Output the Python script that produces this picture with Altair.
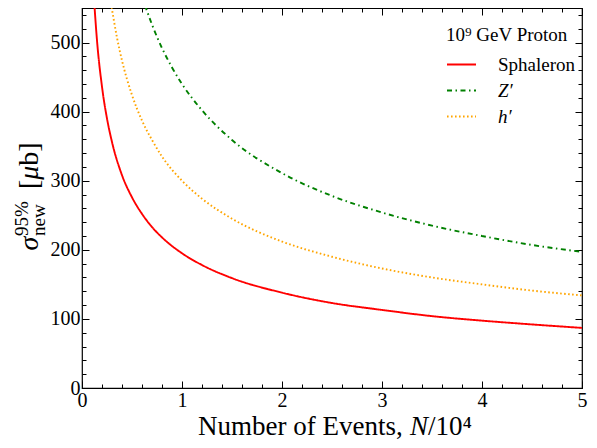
import altair as alt
import pandas as pd

# ---- data (x in units of 10^4 events, sigma in micro-barn)
N_sph = [0.12, 0.15, 0.2, 0.25, 0.3, 0.4, 0.5, 0.6, 0.7, 0.8, 1.0, 1.2, 1.5, 2.0, 2.5, 3.0, 3.5, 4.0, 4.5, 5.0]
sig_sph = [563, 503, 436, 390, 356, 308, 276, 252, 233, 218, 195, 178, 159, 138, 123, 113, 104, 97.5, 92, 87]

N_z = [0.63, 0.7, 0.8, 0.9, 1.0, 1.2, 1.5, 2.0, 2.5, 3.0, 3.5, 4.0, 4.5, 5.0]
sig_z = [554, 526, 492, 464, 440, 402, 359, 311, 278, 254, 235, 220, 207, 197]

N_h = [0.29, 0.35, 0.4, 0.5, 0.6, 0.7, 0.8, 1.0, 1.2, 1.5, 2.0, 2.5, 3.0, 3.5, 4.0, 4.5, 5.0]
sig_h = [557, 507, 474, 424, 387, 359, 335, 300, 274, 245, 212, 190, 173, 160, 150, 141, 134]

names = ["Sphaleron", "Z\u2032", "h\u2032"]
colors = ["#ff0000", "#008000", "#ffa500"]
dashes = [[1, 0], [5, 3.5, 1.5, 3.5], [1.6, 2.4]]

x_major = [0, 1, 2, 3, 4, 5]
x_minor = [0.2, 0.4, 0.6, 0.8, 1.2, 1.4, 1.6, 1.8, 2.2, 2.4, 2.6, 2.8,
           3.2, 3.4, 3.6, 3.8, 4.2, 4.4, 4.6, 4.8]
y_major = [0, 100, 200, 300, 400, 500]
y_minor = [v for v in range(20, 560, 20) if v % 100 != 0]

rows = []
for nm, xs_, ys_ in zip(names, [N_sph, N_z, N_h], [sig_sph, sig_z, sig_h]):
    for a, b in zip(xs_, ys_):
        rows.append({"N": a, "s": b, "model": nm})
df = pd.DataFrame(rows)

FONT = "Liberation Serif"
W, H = 500, 380
xs = alt.Scale(domain=[0, 5], nice=False, zero=False)
ys = alt.Scale(domain=[0, 550], nice=False, zero=False)


def major_axis(orient, values, labels):
    return alt.Axis(orient=orient, values=values, tickSize=7, offset=-7, domain=False,
                    grid=False, labels=labels, labelFont=FONT, labelFontSize=20,
                    labelColor="black", tickColor="black", tickWidth=1,
                    labelPadding=2, labelFlush=False, labelOverlap=False,
                    format="d", title=None)


def minor_axis(orient, values):
    return alt.Axis(orient=orient, values=values, tickSize=4, offset=-4, domain=False,
                    grid=False, labels=False, tickColor="black", tickWidth=1, title=None)


leg = alt.Legend(
    title="10\u2079 GeV Proton", orient="none", legendX=364, legendY=18,
    titleFont=FONT, titleFontSize=19, titleFontWeight="normal", titleColor="black",
    titlePadding=4, labelFont=FONT, labelFontSize=19, labelColor="black",
    labelFontStyle={"expr": "datum.label == 'Sphaleron' ? 'normal' : 'italic'"},
    symbolType="stroke", symbolSize=841, symbolStrokeWidth=2, labelOffset=21,
    rowPadding=0, padding=0,
)

lines = alt.Chart(df).mark_line(clip=True, strokeWidth=1.9, interpolate="monotone").encode(
    x=alt.X("N:Q", scale=xs, axis=major_axis("bottom", x_major, True)),
    y=alt.Y("s:Q", scale=ys, axis=major_axis("left", y_major, True)),
    color=alt.Color("model:N", scale=alt.Scale(domain=names, range=colors), legend=leg),
    strokeDash=alt.StrokeDash("model:N", scale=alt.Scale(domain=names, range=dashes), legend=leg),
)

axdf = pd.DataFrame({"N": [0, 5], "s": [0, 550]})


def axis_layer(xa, ya):
    return alt.Chart(axdf).mark_point(opacity=0).encode(
        x=alt.X("N:Q", scale=xs, axis=xa),
        y=alt.Y("s:Q", scale=ys, axis=ya),
    )


top_right = axis_layer(major_axis("top", x_major, False), major_axis("right", y_major, False))
minor_bl = axis_layer(minor_axis("bottom", x_minor), minor_axis("left", y_minor))
minor_tr = axis_layer(minor_axis("top", x_minor), minor_axis("right", y_minor))


def txt(t, x, y, size, style="normal", angle=0):
    kw = dict(align="left", baseline="alphabetic", font=FONT, fontSize=size,
              fontStyle=style, color="black")
    if angle:
        kw["angle"] = angle
    return alt.Chart(pd.DataFrame({"t": [t]})).mark_text(**kw).encode(
        x=alt.value(x), y=alt.value(y), text="t:N")


# y-axis title: sigma^{95%}_{new} [mu b]
ytitle = [
    txt("\u03c3", -44, 242.5, 28, "italic", 270),
    txt("95%", -54, 228, 19, "normal", 270),
    txt("new", -37, 228, 19, "normal", 270),
    txt("[", -44, 181, 28, "normal", 270),
    txt("\u03bc", -44, 171.7, 28, "italic", 270),
    txt("b]", -44, 157.7, 28, "normal", 270),
]
# x-axis title: Number of Events, N/10^4
xtitle = [
    txt("Number of Events,", 116, 427, 27),
    txt("N", 328, 427, 27, "italic"),
    txt("/10\u2074", 346, 427, 27),
]

chart = alt.layer(lines, top_right, minor_bl, minor_tr, *ytitle, *xtitle).resolve_axis(
    x="independent", y="independent"
).properties(
    width=W, height=H,
    autosize=alt.AutoSizeParams(type="none"),
    padding={"left": 74, "top": 0, "right": 7, "bottom": 54},
).configure_view(stroke="black", strokeWidth=1.2)

chart.save("out.html", embed_options={"renderer": "svg", "actions": False})
